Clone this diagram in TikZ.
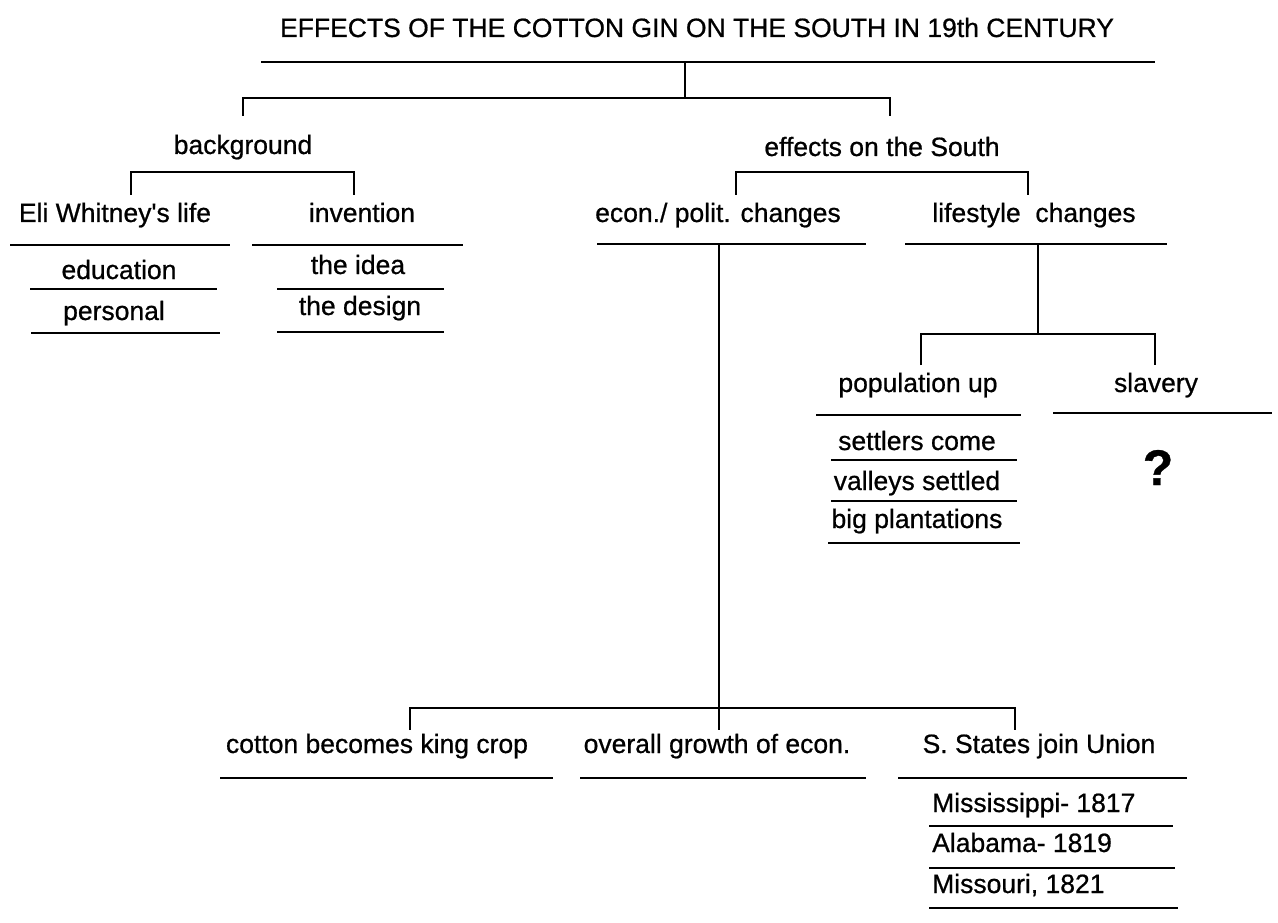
\documentclass[tikz,border=0pt]{standalone}
\usepackage{fontspec}
\setmainfont{Liberation Sans}[Ligatures=TeXOff, FakeBold=0.7]
\begin{document}
\begin{tikzpicture}[x=1pt,y=-1pt,
  lbl/.style={font=\fontsize{26.5}{30}\selectfont, inner sep=0pt, anchor=base},
  lft/.style={lbl, anchor=base west},
  rule/.style={line width=2.8pt},
  link/.style={line width=2.4pt}]
\useasboundingbox (0,0) rectangle (1278,923);

% ---- title and its rule
\node[lbl] (title) at (697,37) {EFFECTS OF THE COTTON GIN ON THE SOUTH IN 19th CENTURY};
\draw[rule] (261,62) -- (1155,62);
\coordinate (troot) at (685,62);
\coordinate (j1) at (685,98);

% ---- first level
\node[lbl] (bg) at (243,154) {background};
\node[lbl] (eff) at (882,156) {effects on the South};
\draw[link] (troot) -- (j1);
\draw[link] (243,116) -- (243,98) -- (890,98) -- (890,116);

% ---- background branch
\node[lbl] (eli) at (115,222) {Eli Whitney's life};
\node[lbl] (inv) at (362,222) {invention};
\draw[link] (131,195) -- (131,172) -- (354,172) -- (354,195);
\draw[rule] (10,245) -- (230,245);
\draw[rule] (252,245) -- (463,245);

\node[lbl] (edu) at (119,279) {education};
\draw[rule] (30,289) -- (217,289);
\node[lbl] (pers) at (114,320) {personal};
\draw[rule] (31,333) -- (220,333);

\node[lbl] (idea) at (358,274) {the idea};
\draw[rule] (277,289) -- (444,289);
\node[lbl] (design) at (360,315) {the design};
\draw[rule] (277,332) -- (444,332);

% ---- effects branch
\node[lbl] (econ) at (718,222) {econ./ polit. changes};
\node[lbl] (life) at (1034,222) {lifestyle\ \ changes};
\draw[link] (736,195) -- (736,172) -- (1028,172) -- (1028,195);
\draw[rule] (597,244) -- (866,244);
\draw[rule] (905,244) -- (1167,244);

% ---- lifestyle branch
\draw[link] (1038,244) -- (1038,334);
\draw[link] (921,365) -- (921,334) -- (1155,334) -- (1155,365);
\node[lbl] (pop) at (918,392) {population up};
\node[lbl] (slav) at (1156,392) {slavery};
\draw[rule] (816,415) -- (1021,415);
\draw[rule] (1053,413) -- (1272,413);

\node[lbl] (sett) at (917,450) {settlers come};
\draw[rule] (831,460) -- (1017,460);
\node[lbl] (vall) at (917,490) {valleys settled};
\draw[rule] (831,501) -- (1017,501);
\node[lbl] (plant) at (917,528) {big plantations};
\draw[rule] (828,543) -- (1020,543);

\node[lbl, font=\fontsize{50}{54}\selectfont\bfseries] (q) at (1158,485) {?};

% ---- economic / political branch
\draw[link] (719,244) -- (719,730);
\draw[link] (410,730) -- (410,708) -- (1015,708) -- (1015,730);
\node[lbl] (king) at (377,753) {cotton becomes king crop};
\node[lbl] (grow) at (717,753) {overall growth of econ.};
\node[lbl] (join) at (1039,753) {S. States join Union};
\draw[rule] (220,778) -- (553,778);
\draw[rule] (580,778) -- (866,778);
\draw[rule] (898,778) -- (1187,778);

\node[lft] (miss) at (932,812) {Mississippi- 1817};
\draw[rule] (929,826) -- (1173,826);
\node[lft] (ala) at (932,852) {Alabama- 1819};
\draw[rule] (929,868) -- (1175,868);
\node[lft] (mo) at (932,893) {Missouri, 1821};
\draw[rule] (929,908) -- (1178,908);
\end{tikzpicture}
\end{document}
